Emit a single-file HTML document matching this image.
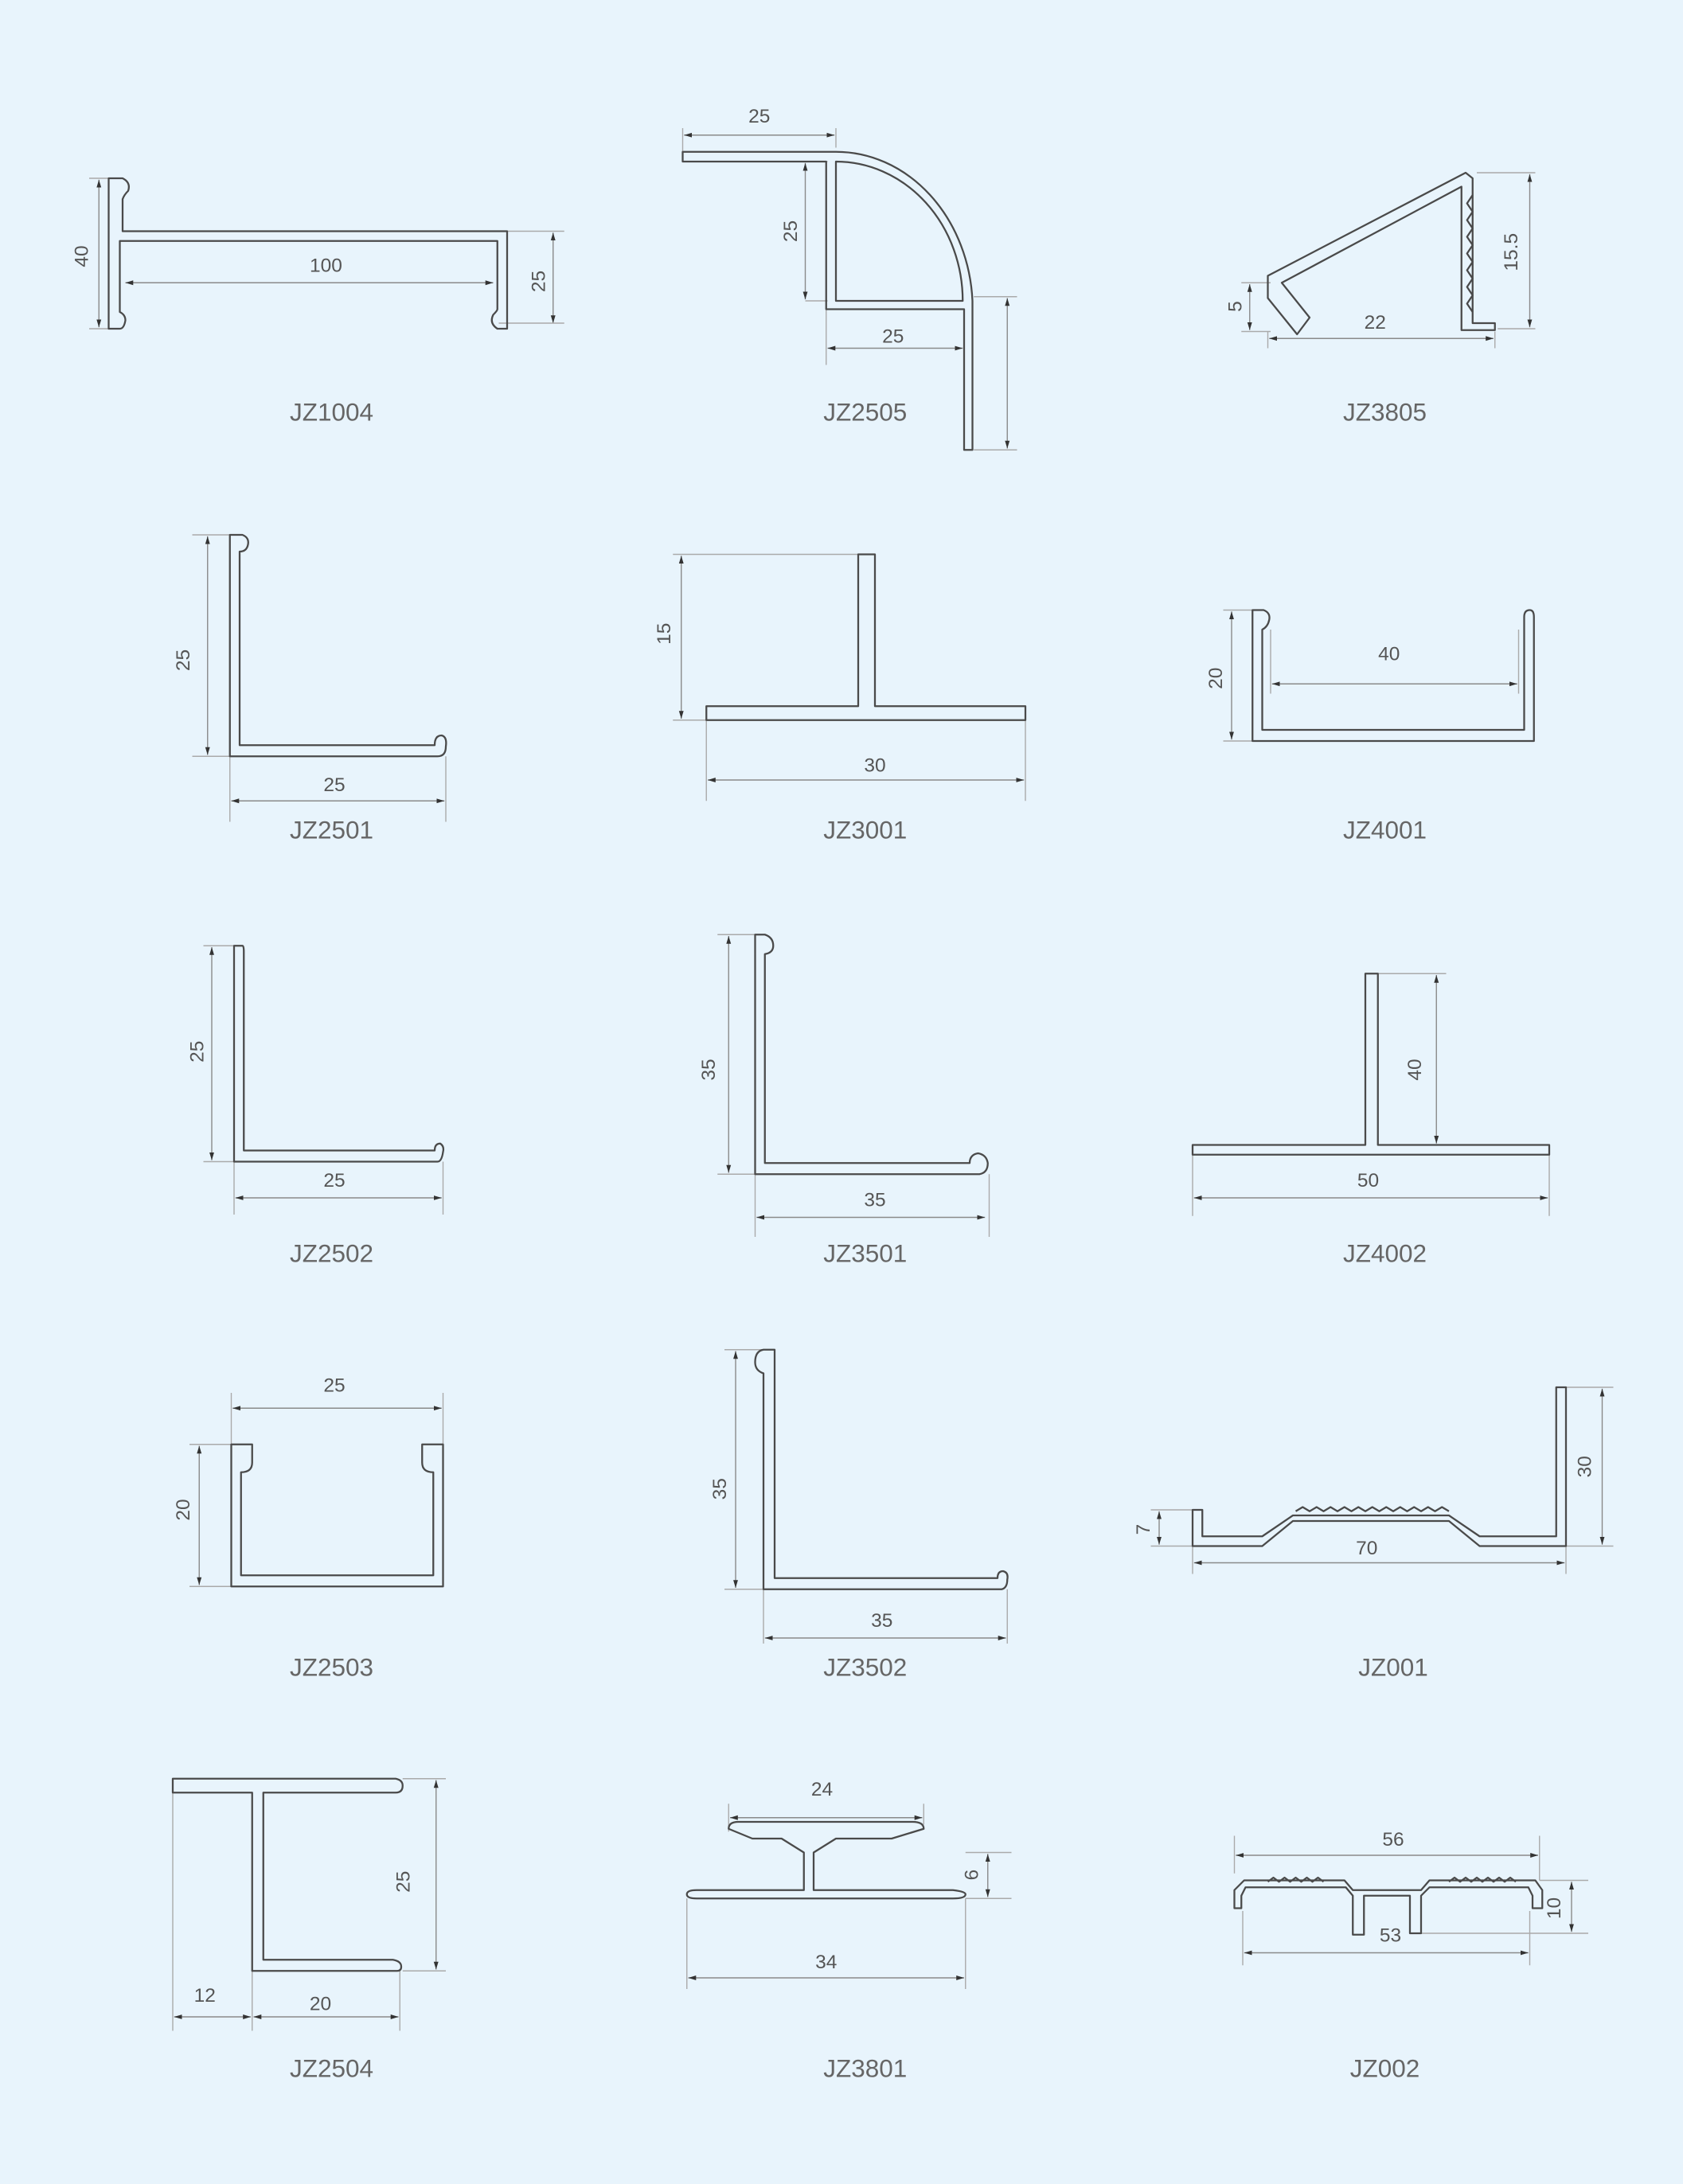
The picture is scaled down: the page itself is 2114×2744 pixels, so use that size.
<!DOCTYPE html>
<html><head><meta charset="utf-8"><style>
html,body{margin:0;padding:0;background:#e8f4fc;}
svg{display:block}
text{font-family:"Liberation Sans",sans-serif;fill:#555;}
.p{fill:none;stroke:#4a4a4a;stroke-width:1.3;stroke-linejoin:round}
.d{fill:none;stroke:#8a8a8a;stroke-width:0.8}
.e{fill:none;stroke:#aaa;stroke-width:0.8}
.n{font-size:14px;text-anchor:middle}
.l{font-size:18px;text-anchor:middle;fill:#666}
</style></head><body>
<svg width="2114" height="2744" viewBox="0 0 1208 1568" xmlns="http://www.w3.org/2000/svg">
<defs><marker id="a" viewBox="0 0 10 10" refX="10" refY="5" markerWidth="7" markerHeight="7" orient="auto-start-reverse"><path d="M0,2 L10,5 L0,8 Z" fill="#333"/></marker></defs>
<rect width="1208" height="1568" fill="#e8f4fc"/>
<g id="dims" class="d" marker-start="url(#a)" marker-end="url(#a)">
<line x1="71" y1="129" x2="71" y2="235"/><line x1="90" y1="203" x2="354" y2="203"/><line x1="397" y1="167" x2="397" y2="232"/>
<line x1="491" y1="97" x2="599" y2="97"/><line x1="578" y1="117" x2="578" y2="215"/><line x1="594" y1="250" x2="691" y2="250"/><line x1="723" y1="214" x2="723" y2="322"/>
<line x1="1098" y1="125" x2="1098" y2="235"/><line x1="897" y1="204" x2="897" y2="237"/><line x1="911" y1="243" x2="1072" y2="243"/>
<line x1="149" y1="385" x2="149" y2="542"/><line x1="166" y1="575" x2="319" y2="575"/>
<line x1="489" y1="399" x2="489" y2="516"/><line x1="508" y1="560" x2="735" y2="560"/>
<line x1="884" y1="439" x2="884" y2="531"/><line x1="913" y1="491" x2="1089" y2="491"/>
<line x1="152" y1="680" x2="152" y2="833"/><line x1="169" y1="860" x2="317" y2="860"/>
<line x1="523" y1="672" x2="523" y2="842"/><line x1="543" y1="874" x2="707" y2="874"/>
<line x1="1031" y1="700" x2="1031" y2="821"/><line x1="857" y1="860" x2="1111" y2="860"/>
<line x1="167" y1="1011" x2="317" y2="1011"/><line x1="143" y1="1038" x2="143" y2="1138"/>
<line x1="528" y1="970" x2="528" y2="1140"/><line x1="549" y1="1176" x2="722" y2="1176"/>
<line x1="832" y1="1085" x2="832" y2="1109"/><line x1="1150" y1="997" x2="1150" y2="1109"/><line x1="857" y1="1122" x2="1123" y2="1122"/>
<line x1="313" y1="1278" x2="313" y2="1414"/><line x1="125" y1="1448" x2="180" y2="1448"/><line x1="182" y1="1448" x2="286" y2="1448"/>
<line x1="524" y1="1305" x2="662" y2="1305"/><line x1="709" y1="1331" x2="709" y2="1362"/><line x1="494" y1="1420" x2="692" y2="1420"/>
<line x1="887" y1="1332" x2="1104" y2="1332"/><line x1="893" y1="1402" x2="1097" y2="1402"/><line x1="1128" y1="1351" x2="1128" y2="1387"/>
</g>
<g class="e">
<path d="M64,128H80 M64,236H80 M364,166H405 M358,232H405"/>
<path d="M490,92V110 M600,92V106 M578,116H594 M578,216H594 M593,216V262 M692,224V262 M699,213H730 M699,323H730"/>
<path d="M1060,124H1102 M1075,236H1102 M891,203H912 M891,238H912 M910,238V250 M1073,238V250"/>
<path d="M138,384H165 M138,543H165 M165,543V590 M320,543V590"/>
<path d="M483,398H616 M483,517H507 M507,517V575 M736,517V575"/>
<path d="M878,438H899 M878,532H899 M912,452V498 M1090,452V498"/>
<path d="M146,679H168 M146,834H168 M168,834V872 M318,834V872"/>
<path d="M515,671H542 M515,843H542 M542,843V888 M710,843V888"/>
<path d="M989,699H1038 M989,822H1038 M856,829V873 M1112,829V873"/>
<path d="M166,1000V1037 M318,1000V1037 M136,1037H166 M136,1139H166"/>
<path d="M520,969H548 M520,1141H548 M548,1141V1180 M723,1141V1180"/>
<path d="M826,1084H856 M826,1110H856 M1124,996H1158 M1124,1110H1158 M856,1110V1130 M1124,1110V1130"/>
<path d="M289,1277H320 M289,1415H320 M124,1287V1458 M181,1415V1458 M287,1415V1458"/>
<path d="M523,1295V1315 M663,1295V1310 M693,1330H726 M693,1363H726 M493,1363V1428 M693,1363V1428"/>
<path d="M886,1318V1345 M1105,1318V1350 M1105,1350H1140 M1020,1388H1140 M892,1372V1411 M1098,1372V1411"/>
</g>
<g>
<path class="p" d="M78,128H88q6,3 4,9q-3,3 -4,6V166H364V236H357q-6,-4 -3,-10q3,-3 3,-4V173H86V224q4,2 4,6q-1,6 -4,6H78Z"/>
<path class="p" d="M490,109H600A98,113 0 0 1 698,216V323H692V222H593V116H490Z"/>
<path class="p" d="M600,116V216H691A91,100 0 0 0 600,116Z"/>
<path class="p" d="M910,198L1052,124L1057,128V232H1073V237H1049V134L920,203L940,228L931,240L910,214Z"/>
<polyline class="p" points="1057,140 1053,146 1057,152 1053,158 1057,164 1053,170 1057,176 1053,182 1057,188 1053,194 1057,200 1053,206 1057,212 1053,218 1057,224"/>
<path class="p" d="M165,384H174q5,2 4,7q-1,5 -6,5V535H312q0,-7 5,-7q4,1 3,8q0,7 -6,7H165Z"/>
<path class="p" d="M616,398H628V507H736V517H507V507H616Z"/>
<path class="p" d="M899,438H907q5,2 4,7q-1,5 -5,7V524H1094V443q0,-5 4,-5q3,0 3,5V532H899Z"/>
<path class="p" d="M168,679H174q1,0 1,4V826H312q0,-5 4,-5q3,2 2,6q-1,7 -4,7H168Z"/>
<path class="p" d="M542,671H549q6,2 6,8q0,5 -6,6V835H696q0,-6 6,-7q6,1 7,7q0,7 -6,8H542Z"/>
<path class="p" d="M980,699H989V822H1112V829H856V822H980Z"/>
<path class="p" d="M166,1037H181V1050Q181,1057 173,1057V1131H311V1057Q303,1057 303,1050V1037H318V1139H166Z"/>
<path class="p" d="M548,969H556V1133H716q0,-5 4,-5q4,1 3,6q0,6 -4,7H548V986q-6,-2 -6,-8q0,-8 6,-9Z"/>
<path class="p" d="M856,1084H863V1103H906L928,1088H1040L1062,1103H1117V996H1124V1110H1062L1040,1092H928L906,1110H856Z"/>
<polyline class="p" points="930,1085 935,1082 940,1085 945,1082 950,1085 955,1082 960,1085 965,1082 970,1085 975,1082 980,1085 985,1082 990,1085 995,1082 1000,1085 1005,1082 1010,1085 1015,1082 1020,1085 1025,1082 1030,1085 1035,1082 1040,1085"/>
<path class="p" d="M124,1277H284q5,1 5,5q0,5 -5,5H189V1407H282q6,1 6,5q0,3 -3,3H181V1287H124Z"/>
<path class="p" d="M523,1313Q523,1308 530,1308H655Q663,1308 663,1313L640,1320H600L584,1330V1357H684Q693,1358 693,1360Q693,1363 684,1363H500Q493,1363 493,1360Q493,1357 500,1357H577V1330L561,1320H540Z"/>
<path class="p" d="M886,1357L893,1350H965L971,1357H1020L1026,1350H1102L1107,1357V1370H1100V1361L1097,1355H1026L1020,1361V1388H1012V1361H979V1389H971V1361L966,1355H894L891,1361V1370H886Z"/>
<polyline class="p" points="910,1351 914,1348 918,1351 922,1348 926,1351 930,1348 934,1351 938,1348 942,1351 946,1348 950,1351"/>
<polyline class="p" points="1040,1351 1044,1348 1048,1351 1052,1348 1056,1351 1060,1348 1064,1351 1068,1348 1072,1351 1076,1348 1080,1351 1084,1348 1088,1351"/>
</g>
<g>
<text class="n" x="234" y="195">100</text>
<text class="n" transform="translate(63,184) rotate(-90)">40</text>
<text class="n" transform="translate(391,202) rotate(-90)">25</text>
<text class="n" x="545" y="88">25</text>
<text class="n" transform="translate(572,166) rotate(-90)">25</text>
<text class="n" x="641" y="246">25</text>
<text class="n" transform="translate(1089,181) rotate(-90)">15.5</text>
<text class="n" transform="translate(891,220) rotate(-90)">5</text>
<text class="n" x="987" y="236">22</text>
<text class="n" transform="translate(136,474) rotate(-90)">25</text>
<text class="n" x="240" y="568">25</text>
<text class="n" transform="translate(481,455) rotate(-90)">15</text>
<text class="n" x="628" y="554">30</text>
<text class="n" transform="translate(877,487) rotate(-90)">20</text>
<text class="n" x="997" y="474">40</text>
<text class="n" transform="translate(146,755) rotate(-90)">25</text>
<text class="n" x="240" y="852">25</text>
<text class="n" transform="translate(513,768) rotate(-90)">35</text>
<text class="n" x="628" y="866">35</text>
<text class="n" transform="translate(1020,768) rotate(-90)">40</text>
<text class="n" x="982" y="852">50</text>
<text class="n" x="240" y="999">25</text>
<text class="n" transform="translate(136,1084) rotate(-90)">20</text>
<text class="n" transform="translate(521,1069) rotate(-90)">35</text>
<text class="n" x="633" y="1168">35</text>
<text class="n" transform="translate(825,1098) rotate(-90)">7</text>
<text class="n" transform="translate(1142,1053) rotate(-90)">30</text>
<text class="n" x="981" y="1116">70</text>
<text class="n" transform="translate(294,1351) rotate(-90)">25</text>
<text class="n" x="147" y="1437">12</text>
<text class="n" x="230" y="1443">20</text>
<text class="n" x="590" y="1289">24</text>
<text class="n" transform="translate(702,1346) rotate(-90)">6</text>
<text class="n" x="593" y="1413">34</text>
<text class="n" x="1000" y="1325">56</text>
<text class="n" x="998" y="1394">53</text>
<text class="n" transform="translate(1120,1370) rotate(-90)">10</text>
</g>
<g>
<text class="l" x="238" y="302">JZ1004</text>
<text class="l" x="621" y="302">JZ2505</text>
<text class="l" x="994" y="302">JZ3805</text>
<text class="l" x="238" y="602">JZ2501</text>
<text class="l" x="621" y="602">JZ3001</text>
<text class="l" x="994" y="602">JZ4001</text>
<text class="l" x="238" y="906">JZ2502</text>
<text class="l" x="621" y="906">JZ3501</text>
<text class="l" x="994" y="906">JZ4002</text>
<text class="l" x="238" y="1203">JZ2503</text>
<text class="l" x="621" y="1203">JZ3502</text>
<text class="l" x="1000" y="1203">JZ001</text>
<text class="l" x="238" y="1491">JZ2504</text>
<text class="l" x="621" y="1491">JZ3801</text>
<text class="l" x="994" y="1491">JZ002</text>
</g>
</svg>
</body></html>
